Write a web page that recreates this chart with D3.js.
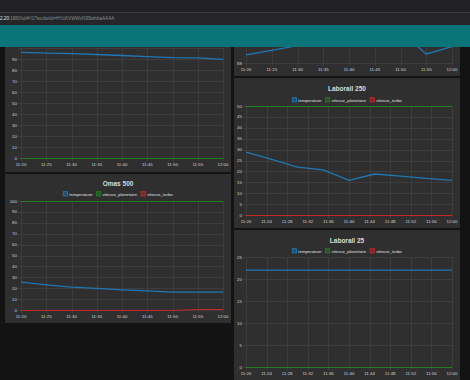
<!DOCTYPE html>
<html><head><meta charset="utf-8">
<script src="https://cdn.jsdelivr.net/npm/d3@7"></script>
<style>body{margin:0;background:#131313;overflow:hidden}svg{display:block}</style>
</head><body><svg id="c" width="470" height="380"></svg>
<script>
// ---- data ----
const times = ["11:20","11:25","11:30","11:35","11:40","11:45","11:50","11:55","12:00"];
const ticks5 = ["11:20","11:25","11:30","11:35","11:40","11:45","11:50","11:55","12:00"];
const ticks4 = ["11:20","11:24","11:28","11:32","11:36","11:40","11:44","11:48","11:52","11:56","12:00"];
const seriesNames = ["temperature","vitesse_planetaire","vitesse_turbo"];

const aTemp  = [96, 95.4, 94.9, 94.1, 93.2, 92.2, 91.3, 91, 89.6];
const aPlan  = [0, 0, 0, 0, 0, 0, 0, 0, 0];
const aTurbo = [0, 0, 0, 0, 0, 0, 0, 0, 0];
const aYTicks = [0,10,20,30,40,50,60,70,80,90,100];

const bTemp  = [88.9, 89.4, 89.9, 91, 92, 92.2, 91.4, 89.0, 89.8];
const bYTicks = [88,90,92,94,96,98,100];

const l250Temp  = [28.8, 25.5, 22, 20.7, 15.9, 18.8, 17.8, 16.8, 15.9];
const l250Plan  = [50, 50, 50, 50, 50, 50, 50, 50, 50];
const l250Turbo = [0, 0, 0, 0, 0, 0, 0, 0, 0];
const l250YTicks = [0,5,10,15,20,25,30,35,40,45,50];

const omasTemp  = [25.5, 23, 21, 19.8, 18.5, 17.6, 16.4, 16.4, 16.4];
const omasPlan  = [100, 100, 100, 100, 100, 100, 100, 100, 100];
const omasTurbo = [0, 0, 0, 0, 0, 0, 0, 1, 1];
const omasYTicks = [0,10,20,30,40,50,60,70,80,90,100];

const l25Temp  = [22, 22, 22, 22, 22, 22, 22, 22, 22];
const l25Plan  = [0, 0, 0, 0, 0, 0, 0, 0, 0];
const l25Turbo = [0, 0, 0, 0, 0, 0, 0, 0, 0];
const l25YTicks = [0,5,10,15,20,25];

// ---- drawing ----
const colors = ["#1f77b4","#237f23","#c62828"];
const parse = d3.timeParse("%H:%M");
const svg = d3.select("#c");
const VIS_TOP = 47;
svg.append("rect").attr("width",470).attr("height",380).attr("fill","#131313");

function chart(cfg){
  const g = svg.append("g");
  g.append("rect").attr("x",cfg.px0).attr("y",cfg.pTop).attr("width",cfg.px1-cfg.px0)
    .attr("height",cfg.pBottom-cfg.pTop).attr("fill","#2f2f2f");
  const x = d3.scaleTime().domain([parse("11:20"),parse("12:00")]).range([cfg.l,cfg.r]);
  const y = d3.scaleLinear().domain(cfg.yDomain).range([cfg.b,cfg.t]);
  const grid = g.append("g").attr("stroke","#3d3d3d").attr("stroke-width",1);
  cfg.xTicks.forEach(t=>{
    const xx = Math.round(x(parse(t)))+0.5;
    grid.append("line").attr("x1",xx).attr("x2",xx).attr("y1",Math.max(cfg.t,cfg.pTop)).attr("y2",cfg.b+3);
  });
  cfg.yTicks.forEach(v=>{
    const yy = Math.round(y(v))+0.5;
    if (yy < cfg.pTop) return;
    grid.append("line").attr("x1",cfg.l-3).attr("x2",cfg.r).attr("y1",yy).attr("y2",yy);
  });
  const lab = g.append("g").attr("font-family","Liberation Sans, Arial, sans-serif")
    .attr("font-size",4.4).attr("fill","#d2d2d2");
  cfg.xTicks.forEach(t=>{
    lab.append("text").attr("x",x(parse(t))).attr("y",cfg.b+8).attr("text-anchor","middle").text(t);
  });
  cfg.yTicks.forEach(v=>{
    const yy = y(v);
    if (yy < VIS_TOP+3) return;
    lab.append("text").attr("x",cfg.l-4).attr("y",yy+1.5).attr("text-anchor","end").text(v);
  });
  const line = d3.line().x((d,i)=>x(parse(times[i]))).y(d=>Math.round(y(d))+0.5);
  const lineT = d3.line().x((d,i)=>x(parse(times[i]))).y(d=>y(d));
  const order = [2,1,0];
  order.forEach(k=>{
    const s = cfg.series[k];
    if(!s) return;
    const p = g.append("path").attr("d",k===0?lineT(s):line(s)).attr("fill","none").attr("stroke",colors[k])
      .attr("stroke-width",k===0?1.3:1);
    if (k>0 && s.every(v=>v===s[0])) p.attr("shape-rendering","crispEdges");
  });
  if (cfg.title){
    const cx = (cfg.px0+cfg.px1)/2;
    g.append("text").attr("x",cx).attr("y",cfg.titleY).attr("text-anchor","middle")
      .attr("font-family","Liberation Sans, Arial, sans-serif").attr("font-size",6.5)
      .attr("font-weight","bold").attr("fill","#dcdcdc").text(cfg.title);
    const lg = g.append("g").attr("font-family","Liberation Sans, Arial, sans-serif")
      .attr("font-size",4.3).attr("fill","#e0e0e0");
    let xx = 0;
    seriesNames.forEach((n,k)=>{
      const it = lg.append("g");
      it.append("rect").attr("x",xx).attr("y",cfg.legendY-2.3).attr("width",4.2).attr("height",4.2)
        .attr("fill",colors[k]).attr("fill-opacity",0.45).attr("stroke",colors[k]).attr("stroke-width",0.9);
      const tx = it.append("text").attr("x",xx+6).attr("y",cfg.legendY+1.5).text(n);
      xx += 6 + tx.node().getComputedTextLength() + 4;
    });
    const w = xx-4;
    lg.attr("transform",`translate(${cx - w/2},0)`);
  }
}

// top-left (title hidden under header)
chart({px0:5,px1:231,pTop:20,pBottom:172,l:21,r:223,t:48,b:158,yDomain:[0,100],yTicks:aYTicks,
  xTicks:ticks5,series:[aTemp,aPlan,aTurbo]});
// Omas 500
chart({px0:5,px1:231,pTop:174,pBottom:323,l:21,r:223,t:201,b:310,yDomain:[0,100],yTicks:omasYTicks,
  xTicks:ticks5,series:[omasTemp,omasPlan,omasTurbo],title:"Omas 500",titleY:185.5,legendY:194});
// top-right (mostly hidden)
chart({px0:234,px1:460,pTop:-80,pBottom:76,l:246,r:452,t:-46,b:63,yDomain:[88,100],yTicks:bYTicks,
  xTicks:ticks5,series:[bTemp,null,null]});
// Laborall 250
chart({px0:234,px1:460,pTop:78,pBottom:228,l:246,r:452,t:106,b:215,yDomain:[0,50],yTicks:l250YTicks,
  xTicks:ticks4,series:[l250Temp,l250Plan,l250Turbo],title:"Laborall 250",titleY:90.5,legendY:100});
// Laborall 25
chart({px0:234,px1:460,pTop:230,pBottom:384,l:246,r:452,t:257,b:367,yDomain:[0,25],yTicks:l25YTicks,
  xTicks:ticks4,series:[l25Temp,l25Plan,l25Turbo],title:"Laborall 25",titleY:242.5,legendY:251});

// browser chrome + header
svg.append("rect").attr("x",0).attr("y",0).attr("width",470).attr("height",12).attr("fill","#222224");
svg.append("rect").attr("x",0).attr("y",12).attr("width",470).attr("height",1).attr("fill","#3a3a3a");
svg.append("rect").attr("x",0).attr("y",13).attr("width",470).attr("height",12).attr("fill","#262628");
const addr = svg.append("text").attr("x",0).attr("y",20).attr("font-family","Liberation Sans, Arial, sans-serif")
  .attr("font-size",4.6).attr("fill","#8a8a8a");
addr.append("tspan").attr("fill","#e8e8e8").text("2.20");
addr.append("tspan").text(":1880/ui/#!/1?socketid=HYcKVWWvN9SwhbaAAAA");
svg.append("rect").attr("x",0).attr("y",25).attr("width",470).attr("height",22).attr("fill","#0a7579");
</script></body></html>
